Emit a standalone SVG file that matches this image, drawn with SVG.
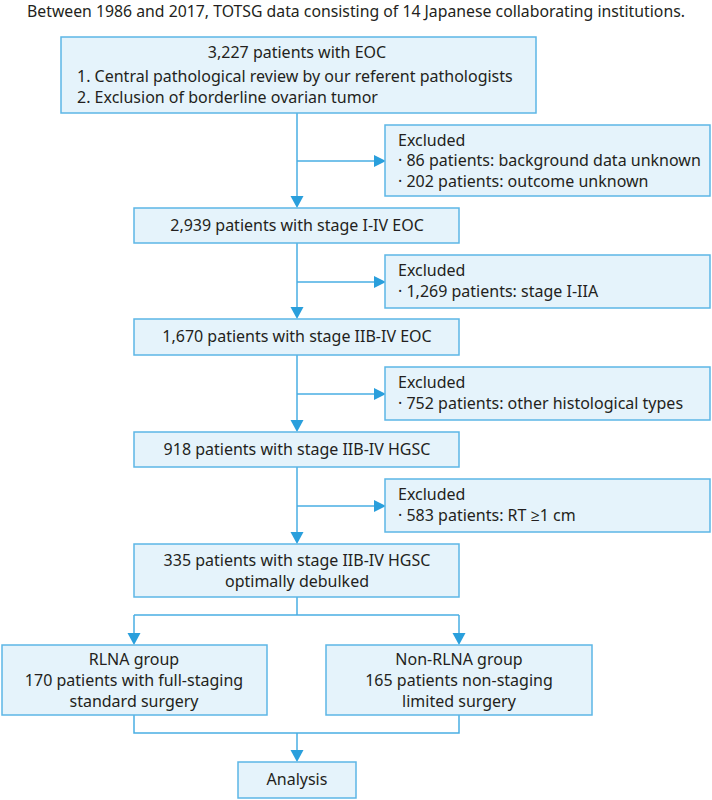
<svg xmlns="http://www.w3.org/2000/svg" width="712" height="800" viewBox="0 0 712 800">
<defs>
<style>
.box{fill:#e5f3fb;stroke:#5cb6e6;stroke-width:1.5}
.t{font-family:"Noto Sans","Open Sans",sans-serif;font-size:16px;fill:#231f20}
.c{text-anchor:middle}
.ln{fill:none;stroke:#4aaee3;stroke-width:1.5}
.ah{fill:#2a9fdc}
</style>
</defs>
<rect width="712" height="800" fill="#ffffff"/>
<text class="t c" x="356" y="17" style="font-size:15.8px">Between 1986 and 2017, TOTSG data consisting of 14 Japanese collaborating institutions.</text>
<g id="connectors">
<path class="ln" d="M297 113V197M297 161H375"/>
<path class="ln" d="M297 243V308M297 282H375"/>
<path class="ln" d="M297 355V420M297 394H375"/>
<path class="ln" d="M297 467V532M297 506H375"/>
<path class="ln" d="M297 597V615M134 615H459M134 615V633M459 615V633"/>
<path class="ln" d="M134 715V733H459V715M297 733V750"/>
<polygon class="ah" points="290.5,196 303.5,196 297,208"/>
<polygon class="ah" points="290.5,307 303.5,307 297,319"/>
<polygon class="ah" points="290.5,420 303.5,420 297,432"/>
<polygon class="ah" points="290.5,532 303.5,532 297,544"/>
<polygon class="ah" points="374,155 374,167 386,161"/>
<polygon class="ah" points="374,276 374,288 386,282"/>
<polygon class="ah" points="374,388 374,400 386,394"/>
<polygon class="ah" points="374,500 374,512 386,506"/>
<polygon class="ah" points="127.5,633 140.5,633 134,645"/>
<polygon class="ah" points="452.5,633 465.5,633 459,645"/>
<polygon class="ah" points="290.5,750 303.5,750 297,762"/>
</g>
<g id="n1">
<rect class="box" x="61" y="37" width="475" height="76"/>
<text class="t c" x="297" y="58">3,227 patients with EOC</text>
<text class="t" x="77" y="82">1. Central pathological review by our referent pathologists</text>
<text class="t" x="77" y="103">2. Exclusion of borderline ovarian tumor</text>
</g>
<g id="e1">
<rect class="box" x="385" y="125" width="325" height="71"/>
<text class="t" x="398" y="146">Excluded</text>
<text class="t" x="398" y="166">· 86 patients: background data unknown</text>
<text class="t" x="398" y="187">· 202 patients: outcome unknown</text>
</g>
<g id="n2">
<rect class="box" x="134" y="208" width="325" height="35"/>
<text class="t c" x="297" y="231">2,939 patients with stage I-IV EOC</text>
</g>
<g id="e2">
<rect class="box" x="385" y="255" width="325" height="53"/>
<text class="t" x="398" y="276">Excluded</text>
<text class="t" x="398" y="297">· 1,269 patients: stage I-IIA</text>
</g>
<g id="n3">
<rect class="box" x="134" y="319" width="325" height="36"/>
<text class="t c" x="297" y="342">1,670 patients with stage IIB-IV EOC</text>
</g>
<g id="e3">
<rect class="box" x="385" y="367" width="325" height="53"/>
<text class="t" x="398" y="388">Excluded</text>
<text class="t" x="398" y="409">· 752 patients: other histological types</text>
</g>
<g id="n4">
<rect class="box" x="134" y="432" width="325" height="35"/>
<text class="t c" x="297" y="455">918 patients with stage IIB-IV HGSC</text>
</g>
<g id="e4">
<rect class="box" x="385" y="479" width="325" height="53"/>
<text class="t" x="398" y="500">Excluded</text>
<text class="t" x="398" y="521">· 583 patients: RT ≥1 cm</text>
</g>
<g id="n5">
<rect class="box" x="134" y="544" width="325" height="53"/>
<text class="t c" x="297" y="566">335 patients with stage IIB-IV HGSC</text>
<text class="t c" x="297" y="587">optimally debulked</text>
</g>
<g id="n6">
<rect class="box" x="2" y="645" width="265" height="70"/>
<text class="t c" x="134" y="665">RLNA group</text>
<text class="t c" x="134" y="686">170 patients with full-staging</text>
<text class="t c" x="134" y="707">standard surgery</text>
</g>
<g id="n7">
<rect class="box" x="326" y="645" width="266" height="70"/>
<text class="t c" x="459" y="665">Non-RLNA group</text>
<text class="t c" x="459" y="686">165 patients non-staging</text>
<text class="t c" x="459" y="707">limited surgery</text>
</g>
<g id="n8">
<rect class="box" x="238" y="762" width="118" height="36"/>
<text class="t c" x="297" y="785">Analysis</text>
</g>
</svg>
